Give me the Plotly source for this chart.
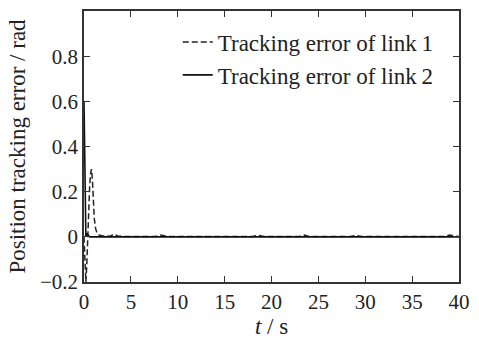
import plotly.graph_objects as go

# Link 1 tracking error (dashed)
t1 = [0, 0.05, 0.12, 0.2, 0.3, 0.4, 0.5, 0.6, 0.7, 0.8, 0.9, 1.0, 1.1, 1.25, 1.4, 1.6, 2.0,
      2.8, 3.2, 3.6, 4.2, 7.6, 8.2, 8.8, 18.0, 18.6, 19.2, 23.0, 23.5, 24.0,
      28.4, 29.0, 29.6, 38.5, 39.0, 39.5, 40]
e1 = [0, -0.08, -0.17, -0.2, -0.12, 0.02, 0.12, 0.22, 0.28, 0.3, 0.25, 0.15, 0.08, 0.035, 0.015, 0.008, 0.004,
      0.003, 0.012, 0.004, 0.002, 0.002, 0.008, 0.002, 0.002, 0.007, 0.002, 0.002, 0.008, 0.002,
      0.002, 0.006, 0.002, 0.002, 0.008, 0.003, 0.002]

# Link 2 tracking error (solid)
t2 = [0, 0.04, 0.08, 0.12, 0.16, 0.2, 0.3, 0.45, 0.6, 1.0, 40]
e2 = [0.6, 0.5, 0.32, 0.15, 0.04, 0.0, 0.015, 0.006, 0.0, 0.0, 0.0]

x_ticks = [0, 5, 10, 15, 20, 25, 30, 35, 40]
y_ticks = [-0.2, 0, 0.2, 0.4, 0.6, 0.8]
y_labels = ["\u22120.2", "0", "0.2", "0.4", "0.6", "0.8"]

font_family = "Liberation Serif, Times New Roman, DejaVu Serif, serif"

fig = go.Figure()
fig.add_trace(go.Scatter(x=t1, y=e1, mode="lines", name="Tracking error of link\u20091",
                         line=dict(color="#222222", width=1.5, dash="6px,3px")))
fig.add_trace(go.Scatter(x=t2, y=e2, mode="lines", name="Tracking error of link\u20092",
                         line=dict(color="#111111", width=1.6)))

axis_common = dict(showgrid=False, zeroline=False, showline=True, linecolor="#333333",
                   linewidth=1.5, mirror="ticks", ticks="inside", ticklen=6,
                   tickcolor="#333333", tickwidth=1.2,
                   tickfont=dict(family=font_family, size=21, color="#222222"))

fig.update_layout(
    width=479, height=349,
    margin=dict(l=84, r=9, t=9, b=67),
    paper_bgcolor="white", plot_bgcolor="white",
    font=dict(family=font_family, color="#222222"),
    xaxis=dict(range=[0, 40], tickvals=x_ticks,
               title=dict(text="<i>t</i> / s", font=dict(family=font_family, size=23), standoff=3),
               **axis_common),
    yaxis=dict(range=[-0.2, 1.0], tickvals=y_ticks, ticktext=y_labels,
               title=dict(text="Position tracking error / rad", font=dict(family=font_family, size=23),
                          standoff=8),
               **axis_common),
    legend=dict(x=0.25, y=0.965, xanchor="left", yanchor="top", bgcolor="rgba(0,0,0,0)",
                font=dict(family=font_family, size=23, color="#222222"),
                itemwidth=30, tracegroupgap=0),
    showlegend=True,
)

fig.write_html("out.html")
